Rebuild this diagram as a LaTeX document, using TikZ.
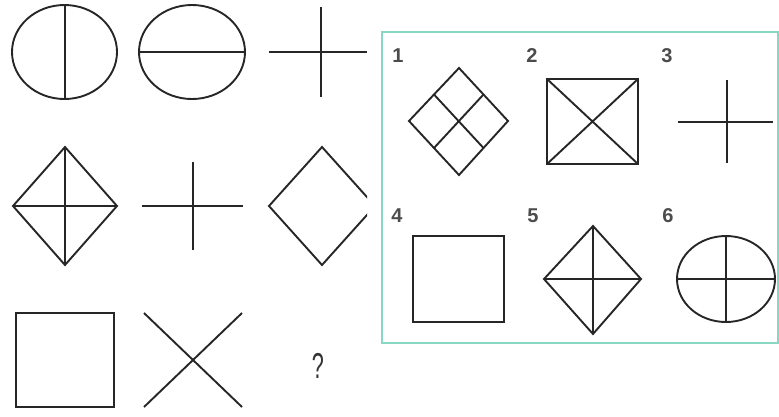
\documentclass[tikz,border=0pt]{standalone}
\usepackage{fontspec}
\setmainfont{Liberation Sans}
\begin{document}
\begin{tikzpicture}[x=1pt,y=-1pt,
  fig/.style={line width=1.9pt,black!85,line join=miter},
  lab/.style={font=\fontsize{20}{20}\selectfont\bfseries,text=black!70,inner sep=0pt},
  panel/.style={line width=1.8pt,draw={rgb,255:red,135;green,215;blue,195}}]
\useasboundingbox (0,0) rectangle (779,416);
% Row 1
\draw[fig] (64.5,52) ellipse [x radius=52.5,y radius=47];
\draw[fig] (65,5) -- (65,99);
\draw[fig] (192,52) ellipse [x radius=53,y radius=47];
\draw[fig] (139,52) -- (245,52);
\draw[fig] (269,52) -- (367,52);
\draw[fig] (321,7) -- (321,97);
% Row 2
\draw[fig] (65,147) -- (117,206) -- (65,265) -- (13,206) -- cycle;
\draw[fig] (65,147) -- (65,265) (13,206) -- (117,206);
\draw[fig] (142,206) -- (243,206);
\draw[fig] (193,162) -- (193,250);
\begin{scope}
\clip (260,140) rectangle (367,272);
\draw[fig] (322,147) -- (375,206) -- (322,265) -- (269,206) -- cycle;
\end{scope}
% Row 3
\draw[fig] (16,313) rectangle (114,407);
\draw[fig] (144,313) -- (242,407) (242,313) -- (144,407);
\node[inner sep=0pt,text=black!80,font=\fontsize{36}{36}\selectfont,xscale=0.6] (q) at (318,366) {?};
% Panel
\draw[panel] (382,32) rectangle (778,343);
\node[lab] (l1) at (398,56) {1};
\node[lab] (l2) at (532,56) {2};
\node[lab] (l3) at (667,56) {3};
\node[lab] (l4) at (397,216) {4};
\node[lab] (l5) at (533,216) {5};
\node[lab] (l6) at (668,216) {6};
% Option 1
\draw[fig] (459,68) -- (508,121) -- (459,175) -- (409,121) -- cycle;
\draw[fig] (434,94.5) -- (483.5,148) (483.5,94.5) -- (434,148);
% Option 2
\draw[fig] (547,79) rectangle (638,164);
\draw[fig] (547,79) -- (638,164) (638,79) -- (547,164);
% Option 3
\draw[fig] (678,122) -- (773,122);
\draw[fig] (727,80) -- (727,163);
% Option 4
\draw[fig] (413,236) rectangle (504,322);
% Option 5
\draw[fig] (593,226) -- (641,279) -- (593,334) -- (544,279) -- cycle;
\draw[fig] (593,226) -- (593,334) (544,279) -- (641,279);
% Option 6
\draw[fig] (726,279) ellipse [x radius=49,y radius=43];
\draw[fig] (677,279) -- (775,279) (726,236) -- (726,322);
\end{tikzpicture}
\end{document}
